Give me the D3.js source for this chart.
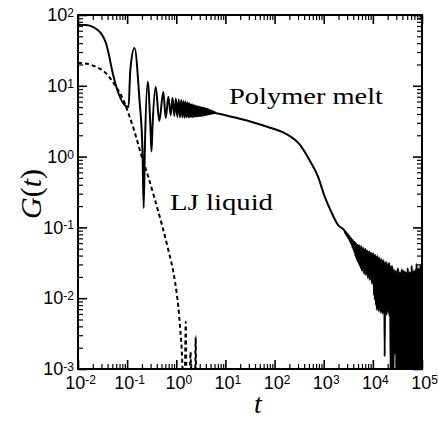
<!DOCTYPE html>
<html><head><meta charset="utf-8">
<script src="https://cdn.jsdelivr.net/npm/d3@7"></script>
<style>
html,body{margin:0;padding:0;background:#fff;}
svg{display:block;}
.ticklabel{font-family:"Liberation Sans",Arial,Helvetica,sans-serif;}
.serif{font-family:"Liberation Serif","Times New Roman",Times,serif;}
</style></head>
<body>
<svg id="chart" width="438" height="423"></svg>
<script>
// Stress autocorrelation G(t) of a polymer melt and of a Lennard-Jones liquid.

// Polymer melt: short-time plateau, glassy oscillations
const meltEarlyT = [0.01, 0.0146, 0.020, 0.0294, 0.0372, 0.0434, 0.0492, 0.1067, 0.116, 0.141, 0.178, 0.205, 0.217, 0.229, 0.262, 0.298, 0.313, 0.328, 0.381, 0.451, 0.544, 0.610, 0.689, 0.770];
const meltEarlyG = [73, 72, 68, 55, 40, 25.8, 16.7, 5.0, 16.7, 34.2, 6.4, 1.24, 0.188, 1.24, 11.4, 2.6, 1.18, 2.6, 9.7, 3.18, 8.26, 3.51, 7.0, 3.87];

// Polymer melt: dense ripple decaying towards the Rouse regime
const meltRippleT = [0.84, 0.91, 0.98, 1.05, 1.12, 1.19, 1.26, 1.33, 1.40, 1.47, 1.54, 1.61, 1.68, 1.75, 1.82, 1.89, 1.96, 2.03, 2.10, 2.17,
  2.24, 2.31, 2.38, 2.45, 2.52, 2.59, 2.66, 2.73, 2.80, 2.87, 2.94, 3.01, 3.06, 3.11, 3.16, 3.21, 3.26, 3.31, 3.36, 3.41,
  3.46, 3.51, 3.56, 3.61, 3.66, 3.71, 3.76, 3.81, 3.86, 3.91, 3.96, 4.01, 4.06, 4.11, 4.16, 4.21, 4.26, 4.31, 4.36, 4.41,
  4.46, 4.51, 4.56, 4.61, 4.66, 4.71, 4.76, 4.81, 4.86, 4.91, 4.96, 5.01, 5.11, 5.21, 5.31, 5.41, 5.51, 5.61, 5.71, 5.81,
  5.91, 6.01, 6.11, 6.21];
const meltRippleG = [6.8, 3.75, 6.6, 3.65, 6.4, 3.6, 6.3, 3.6, 6.1, 3.55, 6.0, 3.6, 5.8, 3.6, 5.7, 3.6, 5.5, 3.65, 5.5, 3.6,
  5.3, 3.65, 5.3, 3.7, 5.2, 3.7, 5.1, 3.7, 5.1, 3.75, 5.0, 3.75, 4.98, 3.77, 4.95, 3.78, 4.92, 3.8, 4.9, 3.8,
  4.87, 3.82, 4.85, 3.84, 4.82, 3.85, 4.8, 3.86, 4.77, 3.88, 4.75, 3.9, 4.72, 3.9, 4.7, 3.92, 4.67, 3.93, 4.65, 3.95,
  4.62, 3.96, 4.6, 3.97, 4.57, 3.98, 4.55, 4.0, 4.52, 4.0, 4.5, 4.02, 4.47, 4.04, 4.42, 4.06, 4.38, 4.08, 4.33, 4.1,
  4.28, 4.12, 4.24, 4.14];

// Polymer melt: smooth Rouse / terminal decay
const meltSmoothT = [7.06, 33.1, 73.4, 163, 329, 526, 766, 1047, 1428, 1955];
const meltSmoothG = [4.05, 3.11, 2.62, 2.13, 1.46, 0.867, 0.52, 0.272, 0.165, 0.108];

// Polymer melt: noisy long-time tail (values below 1e-3 fall off the axis)
const meltTailT = [2700, 2763, 2827, 2893, 2960, 3029, 3100, 3172, 3246, 3321, 3398, 3478, 3559, 3641, 3726, 3813, 3902, 3992, 4085, 4180,
  4278, 4377, 4479, 4583, 4690, 4799, 4911, 5026, 5143, 5262, 5385, 5510, 5638, 5770, 5904, 6041, 6182, 6326, 6473, 6624,
  6778, 6936, 7097, 7263, 7432, 7605, 7782, 7963, 8148, 8338, 8532, 8731, 8934, 9142, 9355, 9572, 9795, 10020, 10260, 10500,
  10740, 10990, 11250, 11510, 11780, 12050, 12330, 12620, 12910, 13210, 13520, 13830, 14160, 14490, 14820, 15170, 15520, 15880, 16250, 16630,
  17020, 17410, 17820, 18230, 18660, 19090, 19540, 19990, 20460, 20930, 21420, 21920, 22430, 22950, 23480, 24030, 24590,
  25100, 25600, 26200, 26800, 27500, 28100, 28800, 29500, 30100, 30800, 31600, 32300, 33100, 33800, 34700, 35500, 36300, 37200, 38000, 38900,
  39800, 40800, 41700, 42700, 43700, 44700, 45700, 46800, 47900, 49000, 50100, 51300, 52500, 53700, 55000, 56200, 57500, 58900, 60300, 61700,
  63100, 64600, 66100, 67600, 69200, 70800, 72400, 74100, 75900, 77600, 79400, 81300, 83200, 85100, 87100, 89100, 91200, 93300, 95500, 97700, 100000];
const meltTailG = [0.088, 0.082, 0.086, 0.078, 0.083, 0.074, 0.080, 0.070, 0.077, 0.066, 0.073, 0.062, 0.071, 0.058, 0.068, 0.053, 0.066, 0.049, 0.063, 0.045,
  0.062, 0.040, 0.060, 0.037, 0.058, 0.034, 0.057, 0.032, 0.055, 0.030, 0.056, 0.028, 0.052, 0.026, 0.054, 0.024, 0.050, 0.027, 0.051, 0.022,
  0.048, 0.025, 0.050, 0.021, 0.046, 0.023, 0.047, 0.019, 0.045, 0.022, 0.046, 0.018, 0.043, 0.020, 0.044, 0.016, 0.042, 0.019, 0.043, 0.011,
  0.040, 0.0095, 0.041, 0.0080, 0.038, 0.0068, 0.040, 0.0072, 0.037, 0.0065, 0.038, 0.0075, 0.035, 0.0062, 0.036, 0.0070, 0.034, 0.0060, 0.035, 0.0068,
  0.033, 0.0015, 0.032, 0.0064, 0.033, 0.0058, 0.031, 0.0070, 0.030, 0.0062, 0.032, 0.0055, 0.029, 0.0009, 0.028, 0.0050, 0.029,
  0.0004, 0.024, 0.0004, 0.026, 0.0016, 0.022, 0.0018, 0.025, 0.0004, 0.021, 0.0004, 0.027, 0.0004, 0.020, 0.0004, 0.024, 0.0004, 0.022, 0.0004, 0.026,
  0.0004, 0.021, 0.0004, 0.025, 0.0004, 0.020, 0.0004, 0.024, 0.0004, 0.022, 0.0004, 0.027, 0.0004, 0.021, 0.0004, 0.024, 0.0004, 0.023, 0.0004, 0.029,
  0.0004, 0.022, 0.0004, 0.025, 0.0004, 0.023, 0.0004, 0.026, 0.0004, 0.031, 0.0004, 0.024, 0.0004, 0.027, 0.0004, 0.025, 0.0004, 0.030, 0.0004, 0.026, 0.0004];

// Lennard-Jones liquid
const ljT = [0.01, 0.0232, 0.0372, 0.0593, 0.0785, 0.104, 0.138, 0.198, 0.266, 0.369, 0.512, 0.688, 0.869, 1.02, 1.099, 1.19, 1.29, 1.37, 1.47, 1.56, 1.62, 1.75, 1.85, 1.95, 2.05, 2.2, 2.4, 2.48, 2.56, 2.7];
const ljG = [21.2, 18.6, 15.0, 9.7, 6.95, 4.27, 2.38, 1.0, 0.532, 0.244, 0.108, 0.048, 0.0237, 0.0117, 0.0076, 0.00396, 0.00186, 0.0007, 0.0004, 0.00466, 0.0004, 0.0004, 0.0004, 0.00174, 0.0004, 0.0004, 0.0004, 0.00288, 0.0004, 0.0004];

// Axis decades
const xExponents = [-2, -1, 0, 1, 2, 3, 4, 5];
const yExponents = [-3, -2, -1, 0, 1, 2];

const svg = d3.select("#chart");
svg.append("rect").attr("width", 438).attr("height", 423).attr("fill", "#fff");

const x = d3.scaleLog().domain([1e-2, 1e5]).range([78, 422]);
const y = d3.scaleLog().domain([1e-3, 1e2]).range([369, 15]);

const xMajor = xExponents.map(e => Math.pow(10, e));
const yMajor = yExponents.map(e => Math.pow(10, e));
const minorOf = majors => majors.slice(0, -1).flatMap(m => d3.range(2, 10).map(k => k * m));
const xMinor = minorOf(xMajor);
const yMinor = minorOf(yMajor);

svg.append("clipPath").attr("id", "plotclip")
  .append("rect").attr("x", 78).attr("y", 15).attr("width", 344).attr("height", 354);

const zip = (ts, gs) => ts.map((t, i) => [t, gs[i]]);
const melt = [].concat(
  zip(meltEarlyT, meltEarlyG),
  zip(meltRippleT, meltRippleG),
  zip(meltSmoothT, meltSmoothG),
  zip(meltTailT, meltTailG)
);
const lj = zip(ljT, ljG);

const line = d3.line()
  .x(d => x(d[0]))
  .y(d => y(d[1]))
  .curve(d3.curveMonotoneX);

const plot = svg.append("g").attr("clip-path", "url(#plotclip)");
plot.append("path").datum(lj)
  .attr("d", line).attr("fill", "none").attr("stroke", "#000")
  .attr("stroke-width", 2).attr("stroke-dasharray", "4,3");
plot.append("path").datum(melt)
  .attr("d", line).attr("fill", "none").attr("stroke", "#000")
  .attr("stroke-width", 2).attr("stroke-linejoin", "round");

// Ticks on all four sides, pointing inwards
function ticks(axis, transform, values, size, width) {
  const g = svg.append("g").attr("transform", transform)
    .call(axis.tickValues(values).tickSizeInner(-size).tickSizeOuter(0).tickFormat(() => ""));
  g.select(".domain").remove();
  g.selectAll(".tick line").attr("stroke", "#000").attr("stroke-width", width);
  return g;
}
const xb = ticks(d3.axisBottom(x).tickPadding(7), "translate(0,369)", xMajor, 9, 1.6);
ticks(d3.axisBottom(x), "translate(0,369)", xMinor, 5, 1.2);
ticks(d3.axisTop(x), "translate(0,15)", xMajor, 9, 1.6);
ticks(d3.axisTop(x), "translate(0,15)", xMinor, 5, 1.2);
const yl = ticks(d3.axisLeft(y).tickPadding(4), "translate(78,0)", yMajor, 9, 1.6);
ticks(d3.axisLeft(y), "translate(78,0)", yMinor, 5, 1.2);
ticks(d3.axisRight(y), "translate(422,0)", yMajor, 9, 1.6);
ticks(d3.axisRight(y), "translate(422,0)", yMinor, 5, 1.2);

// Power-of-ten tick labels
function powerLabels(g, exps) {
  g.selectAll(".tick text").each(function (d, i) {
    const t = d3.select(this)
      .attr("class", "ticklabel")
      .attr("fill", "#000")
      .attr("font-family", null)
      .style("font-size", "18px");
    t.text(null);
    t.append("tspan").text("10");
    t.append("tspan").style("font-size", "12px").attr("dy", "-0.36em").text(String(exps[i]));
  });
}
powerLabels(xb, xExponents);
xb.selectAll(".tick text").attr("dx", 2);
powerLabels(yl, yExponents);

// Frame
svg.append("rect").attr("x", 78).attr("y", 15).attr("width", 344).attr("height", 354)
  .attr("fill", "none").attr("stroke", "#000").attr("stroke-width", 2);

// Axis titles
const yt = svg.append("text").attr("class", "serif")
  .attr("transform", "translate(41,194) rotate(-90)")
  .attr("text-anchor", "middle").style("font-size", "30px");
yt.append("tspan").style("font-style", "italic").text("G");
yt.append("tspan").text("(");
yt.append("tspan").style("font-style", "italic").text("t");
yt.append("tspan").text(")");

svg.append("text").attr("class", "serif").attr("x", 258).attr("y", 413)
  .attr("text-anchor", "middle")
  .style("font-style", "italic").style("font-size", "28px").text("t");

// Curve annotations
svg.append("text").attr("class", "serif").attr("x", 229).attr("y", 104)
  .style("font-size", "24px")
  .attr("textLength", 154).attr("lengthAdjust", "spacingAndGlyphs")
  .text("Polymer melt");
svg.append("text").attr("class", "serif").attr("x", 170).attr("y", 210)
  .style("font-size", "24px")
  .attr("textLength", 103).attr("lengthAdjust", "spacingAndGlyphs")
  .text("LJ liquid");
</script>
</body></html>
